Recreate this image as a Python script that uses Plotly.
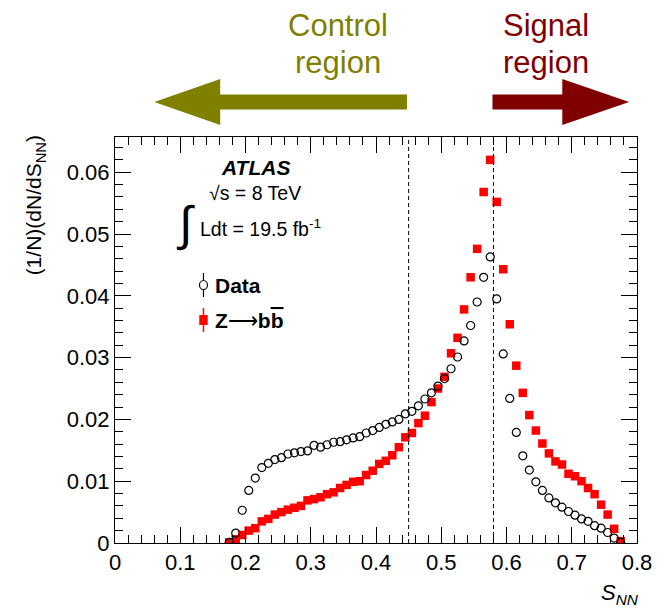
import plotly.graph_objects as go

# S_NN bin centres (bin width 0.01)
s_nn = [0.175, 0.185, 0.195, 0.205, 0.215, 0.225, 0.235, 0.245, 0.255, 0.265,
        0.275, 0.285, 0.295, 0.305, 0.315, 0.325, 0.335, 0.345, 0.355, 0.365,
        0.375, 0.385, 0.395, 0.405, 0.415, 0.425, 0.435, 0.445, 0.455, 0.465,
        0.475, 0.485, 0.495, 0.505, 0.515, 0.525, 0.535, 0.545, 0.555, 0.565,
        0.575, 0.585, 0.595, 0.605, 0.615, 0.625, 0.635, 0.645, 0.655, 0.665,
        0.675, 0.685, 0.695, 0.705, 0.715, 0.725, 0.735, 0.745, 0.755, 0.765,
        0.775]

# Normalised distribution in data
data_vals = [0.0001, 0.0016, 0.0053, 0.0085, 0.0105, 0.0122, 0.0129, 0.0135, 0.0138, 0.0144,
             0.0146, 0.0148, 0.0149, 0.0158, 0.0155, 0.0159, 0.0163, 0.0164, 0.0167, 0.0170,
             0.0172, 0.0178, 0.0182, 0.0187, 0.0192, 0.0196, 0.0200, 0.0209, 0.0213, 0.0222,
             0.0233, 0.0243, 0.0254, 0.0266, 0.0282, 0.0301, 0.0327, 0.0352, 0.0390, 0.0430,
             0.0463, 0.0395, 0.0306, 0.0234, 0.0179, 0.0141, 0.0118, 0.0099, 0.0085, 0.0073,
             0.0065, 0.0058, 0.0051, 0.0045, 0.0039, 0.0035, 0.0028, 0.0024, 0.0017, 0.0008,
             0.0001]

# Normalised distribution in Z->bb simulation
zbb_vals = [0.0001, 0.0006, 0.0013, 0.0020, 0.0024, 0.0035, 0.0039, 0.0046, 0.0050, 0.0054,
            0.0057, 0.0060, 0.0069, 0.0071, 0.0074, 0.0079, 0.0082, 0.0089, 0.0094, 0.0099,
            0.0100, 0.0110, 0.0117, 0.0128, 0.0133, 0.0142, 0.0155, 0.0171, 0.0178, 0.0194,
            0.0206, 0.0228, 0.0250, 0.0269, 0.0307, 0.0332, 0.0378, 0.0430, 0.0476, 0.0568,
            0.0620, 0.0552, 0.0443, 0.0354, 0.0287, 0.0243, 0.0207, 0.0182, 0.0161, 0.0145,
            0.0132, 0.0127, 0.0112, 0.0108, 0.0100, 0.0089, 0.0079, 0.0062, 0.0046, 0.0023,
            0.0003]

# Region boundaries in S_NN
region_cuts = [0.45, 0.58]

x_ticks = [0, 0.1, 0.2, 0.3, 0.4, 0.5, 0.6, 0.7, 0.8]
y_ticks = [0, 0.01, 0.02, 0.03, 0.04, 0.05, 0.06]

W, H = 664, 611
ML, MR, MT, MB = 115, 18, 137, 68
PW, PH = W - ML - MR, H - MT - MB

FONT = "Liberation Sans, Arial, Helvetica, sans-serif"
OLIVE = "#808000"
MAROON = "#800000"


def px(x):
    return (x - ML) / PW


def py(y):
    return (H - MB - y) / PH


fig = go.Figure()

fig.add_trace(go.Scatter(
    x=s_nn, y=zbb_vals, mode="markers", name="Z→bb̄",
    marker=dict(symbol="square", size=8.5, color="#ff0000", line=dict(width=0)),
))
fig.add_trace(go.Scatter(
    x=s_nn, y=data_vals, mode="markers", name="Data",
    marker=dict(symbol="circle-open", size=8, color="black", line=dict(width=1.2)),
))

shapes = []
# dashed region boundaries
for c in region_cuts:
    shapes.append(dict(type="line", xref="x", yref="paper", x0=c, x1=c, y0=0, y1=1,
                       line=dict(color="black", width=1, dash="4px,3px")))


def poly(points):
    d = "M " + " L ".join(f"{px(a):.5f},{py(b):.5f}" for a, b in points) + " Z"
    return d


# control-region arrow (pointing left)
shapes.append(dict(type="path", xref="paper", yref="paper",
                   path=poly([(155, 102), (222, 79), (222, 94.5), (412, 94.5),
                              (412, 109.5), (222, 109.5), (222, 125)]),
                   fillcolor=OLIVE, line=dict(width=0)))
# signal-region arrow (pointing right)
shapes.append(dict(type="path", xref="paper", yref="paper",
                   path=poly([(499, 94.5), (570, 94.5), (570, 79), (638, 102),
                              (570, 125), (570, 109.5), (499, 109.5)]),
                   fillcolor=MAROON, line=dict(width=0)))

# legend symbols
lx = px(205)
shapes.append(dict(type="line", xref="paper", yref="paper", x0=lx, x1=lx,
                   y0=py(297), y1=py(273), line=dict(color="black", width=1.2)))
shapes.append(dict(type="circle", xref="paper", yref="paper", xsizemode="pixel",
                   ysizemode="pixel", xanchor=lx, yanchor=py(285),
                   x0=-4, x1=4, y0=-4.5, y1=4.5,
                   fillcolor="white", line=dict(color="black", width=1.2)))
shapes.append(dict(type="line", xref="paper", yref="paper", x0=lx, x1=lx,
                   y0=py(332), y1=py(308), line=dict(color="#ff0000", width=1.5)))
shapes.append(dict(type="rect", xref="paper", yref="paper", xsizemode="pixel",
                   ysizemode="pixel", xanchor=lx, yanchor=py(320),
                   x0=-4.2, x1=4.2, y0=-5, y1=5,
                   fillcolor="#ff0000", line=dict(width=0)))

annotations = []


def label(text, x, y, size, color="black", xanchor="left", yanchor="middle", angle=0):
    annotations.append(dict(text=text, xref="paper", yref="paper", x=px(x), y=py(y),
                            xanchor=xanchor, yanchor=yanchor, showarrow=False,
                            textangle=angle, font=dict(family=FONT, size=size, color=color)))


label("Control", 342, 26, 31, OLIVE, "center")
label("region", 342, 63, 31, OLIVE, "center")
label("Signal", 553, 26, 31, MAROON, "center")
label("region", 553, 63, 31, MAROON, "center")

label("<b><i>ATLAS</i></b>", 258, 167, 21, xanchor="center")
label("√s = 8 TeV", 209, 193, 19.5)
label("∫", 187, 224, 48, xanchor="center")
label("Ldt = 19.5 fb<sup>-1</sup>", 199, 228, 19.5)
label("<b>Data</b>", 215, 285, 21)
label("<b>Z</b>⟶<b>b<span style='text-decoration:overline'>b</span></b>", 215, 320, 21)

label("(1/N)(dN/dS<sub>NN</sub>)", 34, 133, 21, xanchor="center", yanchor="top", angle=-90)
label("<i>S</i><sub><i>NN</i></sub>", 650, 594, 22, xanchor="right")

axis_common = dict(
    showgrid=False, zeroline=False, showline=True, linecolor="black", linewidth=1,
    mirror="ticks", ticks="inside", ticklen=16, tickwidth=1, tickcolor="black",
    tickfont=dict(family=FONT, size=22, color="black"),
)

fig.update_layout(
    width=W, height=H,
    margin=dict(l=ML, r=MR, t=MT, b=MB, pad=0),
    paper_bgcolor="white", plot_bgcolor="white",
    showlegend=False,
    xaxis=dict(range=[0, 0.8], tickvals=x_ticks, ticktext=[f"{v:g}" for v in x_ticks],
               minor=dict(dtick=0.02, tick0=0, ticks="inside", ticklen=8, tickcolor="black",
                          tickwidth=1, showgrid=False),
               **axis_common),
    yaxis=dict(range=[0, 0.0657], tickvals=y_ticks, ticktext=[f"{v:g}" for v in y_ticks],
               minor=dict(dtick=0.002, tick0=0, ticks="inside", ticklen=8, tickcolor="black",
                          tickwidth=1, showgrid=False),
               **axis_common),
    shapes=shapes,
    annotations=annotations,
)

fig.write_html("out.html")
